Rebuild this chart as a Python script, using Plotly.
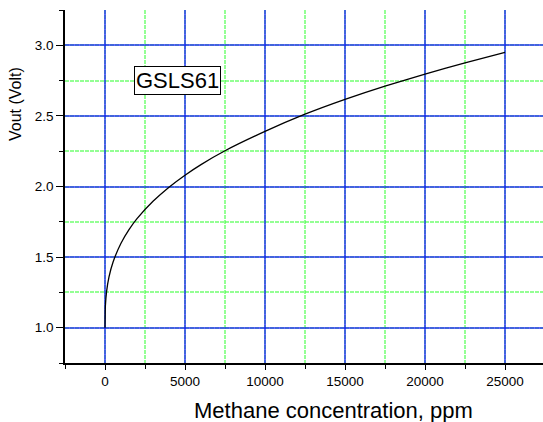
import plotly.graph_objects as go

# Sensor output vs methane concentration (GSLS61)
conc_ppm = [0, 25, 100, 250, 500, 1000, 1500, 2000, 3000, 4000, 5000, 6000,
            7500, 10000, 12500, 15000, 17500, 20000, 22500, 25000]
vout = [1.00, 1.155, 1.257, 1.36, 1.464, 1.598, 1.694, 1.772, 1.895, 1.995, 2.08,
        2.155, 2.253, 2.39, 2.512, 2.617, 2.711, 2.796, 2.876, 2.95]

x_ticks = [0, 5000, 10000, 15000, 20000, 25000]
y_ticks = [1.0, 1.5, 2.0, 2.5, 3.0]

FONT = "Arial, Liberation Sans, sans-serif"
BLUE = "rgba(20,20,255,0.65)"
GREEN = "rgba(60,255,60,0.55)"

fig = go.Figure()
fig.add_trace(go.Scatter(
    x=conc_ppm, y=vout, mode="lines",
    line=dict(color="black", width=1.3, shape="spline", smoothing=0.6),
    showlegend=False, hoverinfo="skip",
))

fig.update_layout(
    width=543, height=422,
    margin=dict(l=65, r=0, t=10, b=59),
    paper_bgcolor="white", plot_bgcolor="white",
    font=dict(family=FONT, color="black", size=13.5),
    showlegend=False,
)

fig.update_xaxes(
    range=[-2500, 27375],
    tickvals=x_ticks, tickformat="d",
    showgrid=True, gridcolor=BLUE, gridwidth=1.5,
    zeroline=False,
    showline=True, linecolor="black", linewidth=1.6,
    ticks="outside", ticklen=5, tickwidth=1, tickcolor="black",
    tickfont=dict(size=13.5),
    minor=dict(dtick=2500, tick0=0, showgrid=True, gridcolor=GREEN,
               griddash="4px,1px", gridwidth=1.5,
               ticks="outside", ticklen=4, tickcolor="black"),
)

fig.update_yaxes(
    range=[0.75, 3.25],
    tickvals=y_ticks, tickformat=".1f",
    showgrid=True, gridcolor=BLUE, gridwidth=1.5,
    zeroline=False,
    showline=True, linecolor="black", linewidth=1.6,
    ticks="outside", ticklen=7, tickwidth=1, tickcolor="black",
    tickfont=dict(size=13.5),
    minor=dict(dtick=0.25, tick0=0.75, showgrid=True, gridcolor=GREEN,
               griddash="4px,1px", gridwidth=1.5,
               ticks="outside", ticklen=4, tickcolor="black"),
)

# Axis titles
fig.add_annotation(
    text="Methane concentration, ppm", xref="paper", yref="paper",
    x=(333 - 65) / 478, y=-47 / 353, xanchor="center", yanchor="middle",
    showarrow=False, font=dict(size=22, family=FONT),
)
fig.add_annotation(
    text="Vout (Volt)", xref="paper", yref="paper",
    x=-50 / 478, y=(363 - 104) / 353, xanchor="center", yanchor="middle",
    textangle=-90, showarrow=False, font=dict(size=16, family=FONT),
)

# Series label box
fig.add_annotation(
    text="GSLS61", x=4500, y=2.75, xref="x", yref="y",
    xanchor="center", yanchor="middle", showarrow=False,
    font=dict(size=22, family=FONT),
    bgcolor="white", bordercolor="black", borderwidth=1, borderpad=1,
)

fig.write_html("out.html")
